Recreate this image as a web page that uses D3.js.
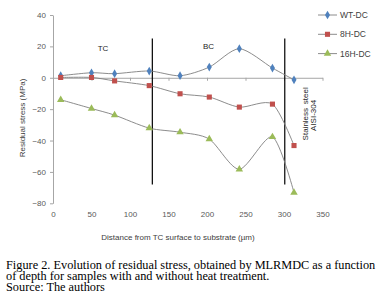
<!DOCTYPE html>
<html>
<head>
<meta charset="utf-8">
<script src="https://cdn.jsdelivr.net/npm/d3@7"></script>
<style>
  body { margin: 0; background: #fff; }
  svg { display: block; }
  .axis text { font-family: "Liberation Sans", Arial, sans-serif; font-size: 8px; fill: #595959; }
  .axis path, .axis line { stroke: #a6a6a6; }
</style>
</head>
<body>
<div class="chart"></div>
<script>
// depth (µm) and residual stress (MPa)
const depth = [10, 50, 80, 125, 165, 203, 242, 285, 313];
const wtDC  = [1.3, 3.2, 2.6, 4.3, 1.3, 6.8, 18.5, 6.2, -1.3];
const h8DC  = [0.2, 0.2, -2, -5, -10.2, -12.3, -18.7, -16.8, -43.2];
const h16DC = [-14, -19.6, -23.8, -32.1, -34.7, -39.1, -58.3, -37.7, -73.2];
const seriesNames = ["WT-DC", "8H-DC", "16H-DC"];
const xTicks = [0, 50, 100, 150, 200, 250, 300, 350];
const yTicks = [-80, -60, -40, -20, 0, 20, 40];
const boundaries = [129, 301];   // TC/BC and BC/steel interfaces

const width = 384, height = 305;
const svg = d3.select(".chart").append("svg")
  .attr("width", width).attr("height", height);

const x = d3.scaleLinear([0, 350], [53, 322.5]);
const y = d3.scaleLinear([-80, 40], [203.3, 15]);

// y axis
svg.append("g").attr("class", "axis")
  .attr("transform", `translate(${x(0)},0)`)
  .call(d3.axisLeft(y).tickValues(yTicks).tickSizeInner(3).tickSizeOuter(0).tickPadding(4));

// x axis drawn on zero line, labels below the plot
svg.append("g").attr("class", "axis")
  .attr("transform", `translate(0,${y(0)})`)
  .call(d3.axisBottom(x).tickValues(xTicks).tickSize(3).tickSizeOuter(0).tickFormat(""));
svg.append("g").attr("class", "axis")
  .attr("transform", `translate(0,${y(-80) + 4})`)
  .call(d3.axisBottom(x).tickValues(xTicks).tickSize(0).tickPadding(4))
  .call(g => g.select(".domain").remove());

// axis titles
svg.append("text")
  .attr("x", 178).attr("y", 240)
  .attr("text-anchor", "middle")
  .style("font-family", "Liberation Sans, Arial, sans-serif")
  .style("font-size", "8px").style("fill", "#404040")
  .text("Distance from TC surface to substrate (µm)");
svg.append("text")
  .attr("transform", "translate(25,118) rotate(-90)")
  .attr("text-anchor", "middle")
  .style("font-family", "Liberation Sans, Arial, sans-serif")
  .style("font-size", "8px").style("fill", "#404040")
  .text("Residual stress (MPa)");

// boundary lines
svg.selectAll(".boundary").data(boundaries).join("line")
  .attr("class", "boundary")
  .attr("x1", d => x(d)).attr("x2", d => x(d))
  .attr("y1", y(25)).attr("y2", y(-68))
  .attr("stroke", "#000").attr("stroke-width", 1.2);

// region labels
const labelStyle = s => s.style("font-family", "Liberation Sans, Arial, sans-serif")
  .style("font-size", "8px").style("fill", "#262626");
svg.append("text").attr("x", x(65)).attr("y", y(17)).attr("text-anchor", "middle").text("TC").call(labelStyle);
svg.append("text").attr("x", x(202)).attr("y", y(18.5)).attr("text-anchor", "middle").text("BC").call(labelStyle);
svg.append("text").attr("transform", `translate(${x(331.5)},${y(-23)}) rotate(-90)`)
  .attr("text-anchor", "middle").attr("word-spacing", "1.5px").text("Stainless steel").call(labelStyle);
svg.append("text").attr("transform", `translate(${x(341.5)},${y(-24)}) rotate(-90)`)
  .attr("text-anchor", "middle").text("AISI-304").call(labelStyle);

// series
const series = [
  { name: seriesNames[0], values: wtDC,  color: "#4F81BD", symbol: d3.symbolDiamond, size: 22 },
  { name: seriesNames[1], values: h8DC,  color: "#C0504D", symbol: d3.symbolSquare,  size: 26 },
  { name: seriesNames[2], values: h16DC, color: "#9BBB59", symbol: d3.symbolTriangle, size: 24 }
];

const line = d3.line()
  .x((d, i) => x(depth[i]))
  .y(d => y(d))
  .curve(d3.curveCardinal.tension(0.2));

series.forEach(s => {
  svg.append("path")
    .attr("d", line(s.values))
    .attr("fill", "none")
    .attr("stroke", "#7f7f7f")
    .attr("stroke-width", 0.9);
  svg.append("g").selectAll("path").data(s.values).join("path")
    .attr("transform", (d, i) => `translate(${x(depth[i])},${y(d)})`)
    .attr("d", d3.symbol(s.symbol, s.size))
    .attr("fill", s.color);
});

// legend
const legend = svg.append("g").attr("transform", "translate(318,15)");
series.forEach((s, i) => {
  const g = legend.append("g").attr("transform", `translate(0,${i * 19.3})`);
  g.append("line").attr("x1", 0).attr("x2", 19).attr("stroke", "#7f7f7f").attr("stroke-width", 0.9);
  g.append("path").attr("transform", "translate(9.5,0)")
    .attr("d", d3.symbol(s.symbol, s.size)).attr("fill", s.color);
  g.append("text").attr("x", 22).attr("y", 3)
    .style("font-family", "Liberation Sans, Arial, sans-serif")
    .style("font-size", "8.5px").style("fill", "#404040")
    .text(s.name);
});

// caption
const caption = [
  "Figure 2. Evolution of residual stress, obtained by MLRMDC as a function",
  "of depth for samples with and without heat treatment.",
  "Source: The authors"
];
svg.append("g").selectAll("text").data(caption).join("text")
  .attr("x", 6).attr("y", (d, i) => 268.5 + i * 11)
  .style("font-family", "Liberation Serif, Times New Roman, serif")
  .style("font-size", "12.3px").style("fill", "#000")
  .text(d => d);
</script>
</body>
</html>
